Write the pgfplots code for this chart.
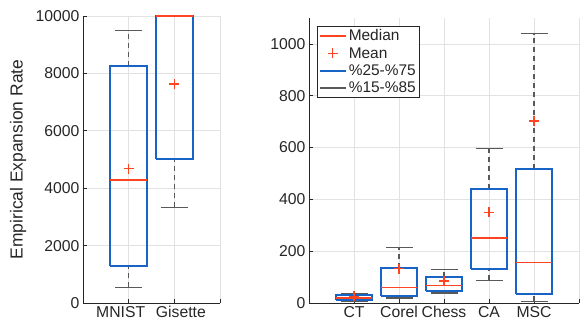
\documentclass[border=0pt]{standalone}
\usepackage{pgfplots}
\pgfplotsset{compat=1.18}
\usepackage{fontspec}
\setmainfont{Liberation Sans}
\definecolor{mblue}{HTML}{1764C6}
\definecolor{mred}{HTML}{FF4421}
\definecolor{wgray}{HTML}{595959}
\definecolor{gridc}{HTML}{E2E2E2}
\definecolor{axc}{HTML}{262626}
\pgfplotsset{
  mystyle/.style={
    scale only axis, clip=false,
    axis x line*=bottom, axis y line*=left,
    axis line style={draw=axc, line width=0.6bp},
    tick style={draw=axc, line width=0.6bp},
    major tick length=4bp,
    grid=major, major grid style={draw=gridc, line width=0.6bp},
    tick label style={font=\fontsize{15.8}{18}\selectfont, text=axc},
    /pgf/number format/assume math mode=true,
    /pgf/number format/1000 sep={},
    scaled y ticks=false,
    unbounded coords=jump,
  },
  whisk/.style={draw=wgray, line width=1.2bp, dash pattern=on 5bp off 4bp, forget plot},
  cap/.style={draw=wgray, line width=1.3bp, forget plot},
  bx/.style={draw=mblue, line width=2bp, forget plot},
  med/.style={draw=mred, line width=1.6bp, forget plot},
  mn/.style={only marks, mark=+, mark size=5bp, mark options={draw=mred, line width=1.3bp}, forget plot},
}
\begin{document}
\begin{tikzpicture}
\useasboundingbox (0,0) rectangle (580bp,322bp);
% ---------------- left axis
\begin{axis}[mystyle,
  at={(83bp,19bp)}, anchor=south west,
  width=137bp, height=287bp,
  xmin=0, xmax=3, ymin=0, ymax=10000,
  xtick={0,1,2,3}, xticklabels={,{MNIST\hspace*{16bp}},{\hspace*{13bp}Gisette},},
  ytick={0,2000,...,10000},
  ylabel={Empirical Expansion Rate},
  ylabel style={at={(axis description cs:-0.474,0.5)}, anchor=center, font=\fontsize{17.5}{20}\selectfont, text=axc},
]
\addplot[whisk] coordinates {(1,8270)(1,9500) (nan,nan) (1,550)(1,1300) (nan,nan) (2,3330)(2,5000)};
\addplot[cap] coordinates {(0.7,9500)(1.3,9500) (nan,nan) (0.7,550)(1.3,550) (nan,nan) (1.7,3330)(2.3,3330) (nan,nan) (1.7,10000)(2.3,10000)};
\addplot[bx] coordinates {(0.6,1300)(1.4,1300)(1.4,8270)(0.6,8270)(0.6,1300)};
\addplot[bx] coordinates {(1.6,5000)(2.4,5000)(2.4,10000)(1.6,10000)(1.6,5000)};
\addplot[med] coordinates {(0.6,4280)(1.4,4280) (nan,nan) (1.6,10000)(2.4,10000)};
\addplot[mn] coordinates {(1,4680) (2,7630)};
\end{axis}
% ---------------- right axis
\begin{axis}[mystyle,
  at={(309bp,19bp)}, anchor=south west,
  width=270bp, height=285bp,
  xmin=0, xmax=6, ymin=0, ymax=1100,
  xtick={0,1,2,3,4,5,6}, xticklabels={,CT,Corel,Chess,CA,MSC,},
  ytick={0,200,...,1000},
  legend image code/.code={\draw[#1] (0bp,0bp) -- (26bp,0bp);},
  legend style={at={(axis description cs:0.0296,0.972)}, anchor=north west,
    draw=axc, line width=0.6bp, fill=white,
    font=\fontsize{15.5}{17}\selectfont, text=axc,
    inner sep=1.5bp, row sep=1bp, cells={anchor=west}},
]
\addplot[whisk] coordinates {(1,30)(1,37) (nan,nan) (1,8)(1,13)
  (nan,nan) (2,134)(2,215) (nan,nan) (2,19)(2,27)
  (nan,nan) (3,101)(3,129) (nan,nan) (3,39)(3,45)
  (nan,nan) (4,440)(4,596) (nan,nan) (4,88)(4,133)
  (nan,nan) (5,516)(5,1040) (nan,nan) (5,6)(5,34)};
\addplot[cap] coordinates {(0.7,37)(1.3,37) (nan,nan) (0.7,8)(1.3,8)
  (nan,nan) (1.7,215)(2.3,215) (nan,nan) (1.7,19)(2.3,19)
  (nan,nan) (2.7,129)(3.3,129) (nan,nan) (2.7,39)(3.3,39)
  (nan,nan) (3.7,596)(4.3,596) (nan,nan) (3.7,88)(4.3,88)
  (nan,nan) (4.7,1040)(5.3,1040) (nan,nan) (4.7,6)(5.3,6)};
\addplot[bx] coordinates {(0.6,13)(1.4,13)(1.4,30)(0.6,30)(0.6,13)};
\addplot[bx] coordinates {(1.6,27)(2.4,27)(2.4,134)(1.6,134)(1.6,27)};
\addplot[bx] coordinates {(2.6,45)(3.4,45)(3.4,101)(2.6,101)(2.6,45)};
\addplot[bx] coordinates {(3.6,133)(4.4,133)(4.4,440)(3.6,440)(3.6,133)};
\addplot[bx] coordinates {(4.6,34)(5.4,34)(5.4,516)(4.6,516)(4.6,34)};
\addplot[med] coordinates {(0.6,19)(1.4,19) (nan,nan) (1.6,60)(2.4,60)
  (nan,nan) (2.6,68)(3.4,68) (nan,nan) (3.6,252)(4.4,252) (nan,nan) (4.6,156)(5.4,156)};
\addplot[mn] coordinates {(1,26) (2,133) (3,85) (4,350) (5,703)};
\addlegendimage{draw=mred, line width=1.6bp}
\addlegendentry{Median}
\addlegendimage{legend image code/.code={\draw[mred, line width=1.3bp] (8bp,0bp) -- (18bp,0bp) (13bp,-5bp) -- (13bp,5bp);}}
\addlegendentry{Mean}
\addlegendimage{draw=mblue, line width=2bp}
\addlegendentry{\%25-\%75}
\addlegendimage{draw=wgray, line width=1.3bp}
\addlegendentry{\%15-\%85}
\end{axis}
\end{tikzpicture}
\end{document}
